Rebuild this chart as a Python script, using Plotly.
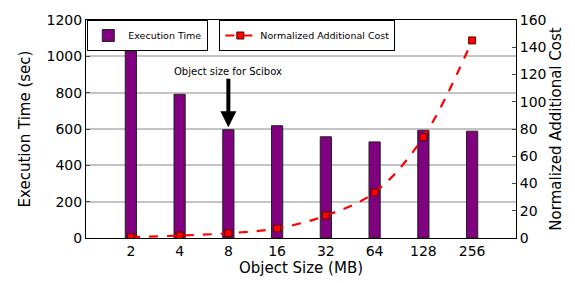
import plotly.graph_objects as go

sizes = ["2", "4", "8", "16", "32", "64", "128", "256"]
exec_time = [1030, 791, 596, 618, 557, 529, 593, 588]
norm_cost = [0.6, 1.8, 3.5, 7.0, 16.5, 33.5, 74, 145]

fig = go.Figure()
fig.add_trace(go.Bar(
    x=sizes, y=exec_time, name="Execution Time",
    marker=dict(color="#800080", line=dict(color="#222222", width=1)),
    width=0.23, legend="legend", yaxis="y",
))
fig.add_trace(go.Scatter(
    x=sizes, y=norm_cost, name="Normalized Additional Cost",
    mode="lines+markers", line=dict(color="#ff0000", width=2.2, dash="dash", shape="spline"),
    marker=dict(symbol="square", size=7, color="#ff0000", line=dict(color="#550000", width=1)),
    yaxis="y2", legend="legend2",
))

font = "DejaVu Sans"
fig.update_layout(
    width=575, height=283,
    margin=dict(l=86, r=59, t=15, b=44),
    plot_bgcolor="white", paper_bgcolor="white",
    font=dict(family=font, size=14, color="black"),
    showlegend=True,
    xaxis=dict(
        type="category", range=[-0.92, 7.9],
        showline=True, linecolor="black", linewidth=1, mirror=True,
        ticks="", showgrid=False,
        title=dict(text="Object Size (MB)", font=dict(size=15), standoff=2),
        tickfont=dict(size=14),
    ),
    yaxis=dict(
        range=[0, 1200], tickvals=[0, 200, 400, 600, 800, 1000, 1200],
        showline=True, linecolor="black", linewidth=1,
        showgrid=True, gridcolor="#c4c4c4", gridwidth=1.5,
        ticks="inside", ticklen=4,
        title=dict(text="Execution Time (sec)", font=dict(size=15), standoff=12),
        tickfont=dict(size=14), zeroline=False,
    ),
    yaxis2=dict(
        range=[0, 160], tickvals=[0, 20, 40, 60, 80, 100, 120, 140, 160],
        overlaying="y", side="right",
        showline=True, linecolor="black", linewidth=1,
        showgrid=False, ticks="inside", ticklen=4,
        title=dict(text="Normalized Additional Cost", font=dict(size=15), standoff=4),
        tickfont=dict(size=14), zeroline=False,
    ),
    legend=dict(
        x=0.003, y=1.0, xanchor="left", yanchor="top",
        bordercolor="black", borderwidth=1, bgcolor="white",
        font=dict(size=9.5), itemwidth=30, tracegroupgap=0,
    ),
    legend2=dict(
        x=0.31, y=1.0, xanchor="left", yanchor="top",
        bordercolor="black", borderwidth=1, bgcolor="white",
        font=dict(size=9.5), itemwidth=30,
    ),
    annotations=[
        dict(x=2, y=610, xref="x", yref="y", ax=0, ay=-50,
             showarrow=True, arrowhead=2, arrowsize=0.8, arrowwidth=4,
             arrowcolor="black", text=""),
        dict(x=2, y=915, xref="x", yref="y", showarrow=False,
             text="Object size for Scibox", font=dict(size=10), xanchor="center"),
    ],
)

fig.write_html("out.html", config={"displayModeBar": False},
               post_script="document.body.style.margin='0';document.body.style.overflow='hidden';")
